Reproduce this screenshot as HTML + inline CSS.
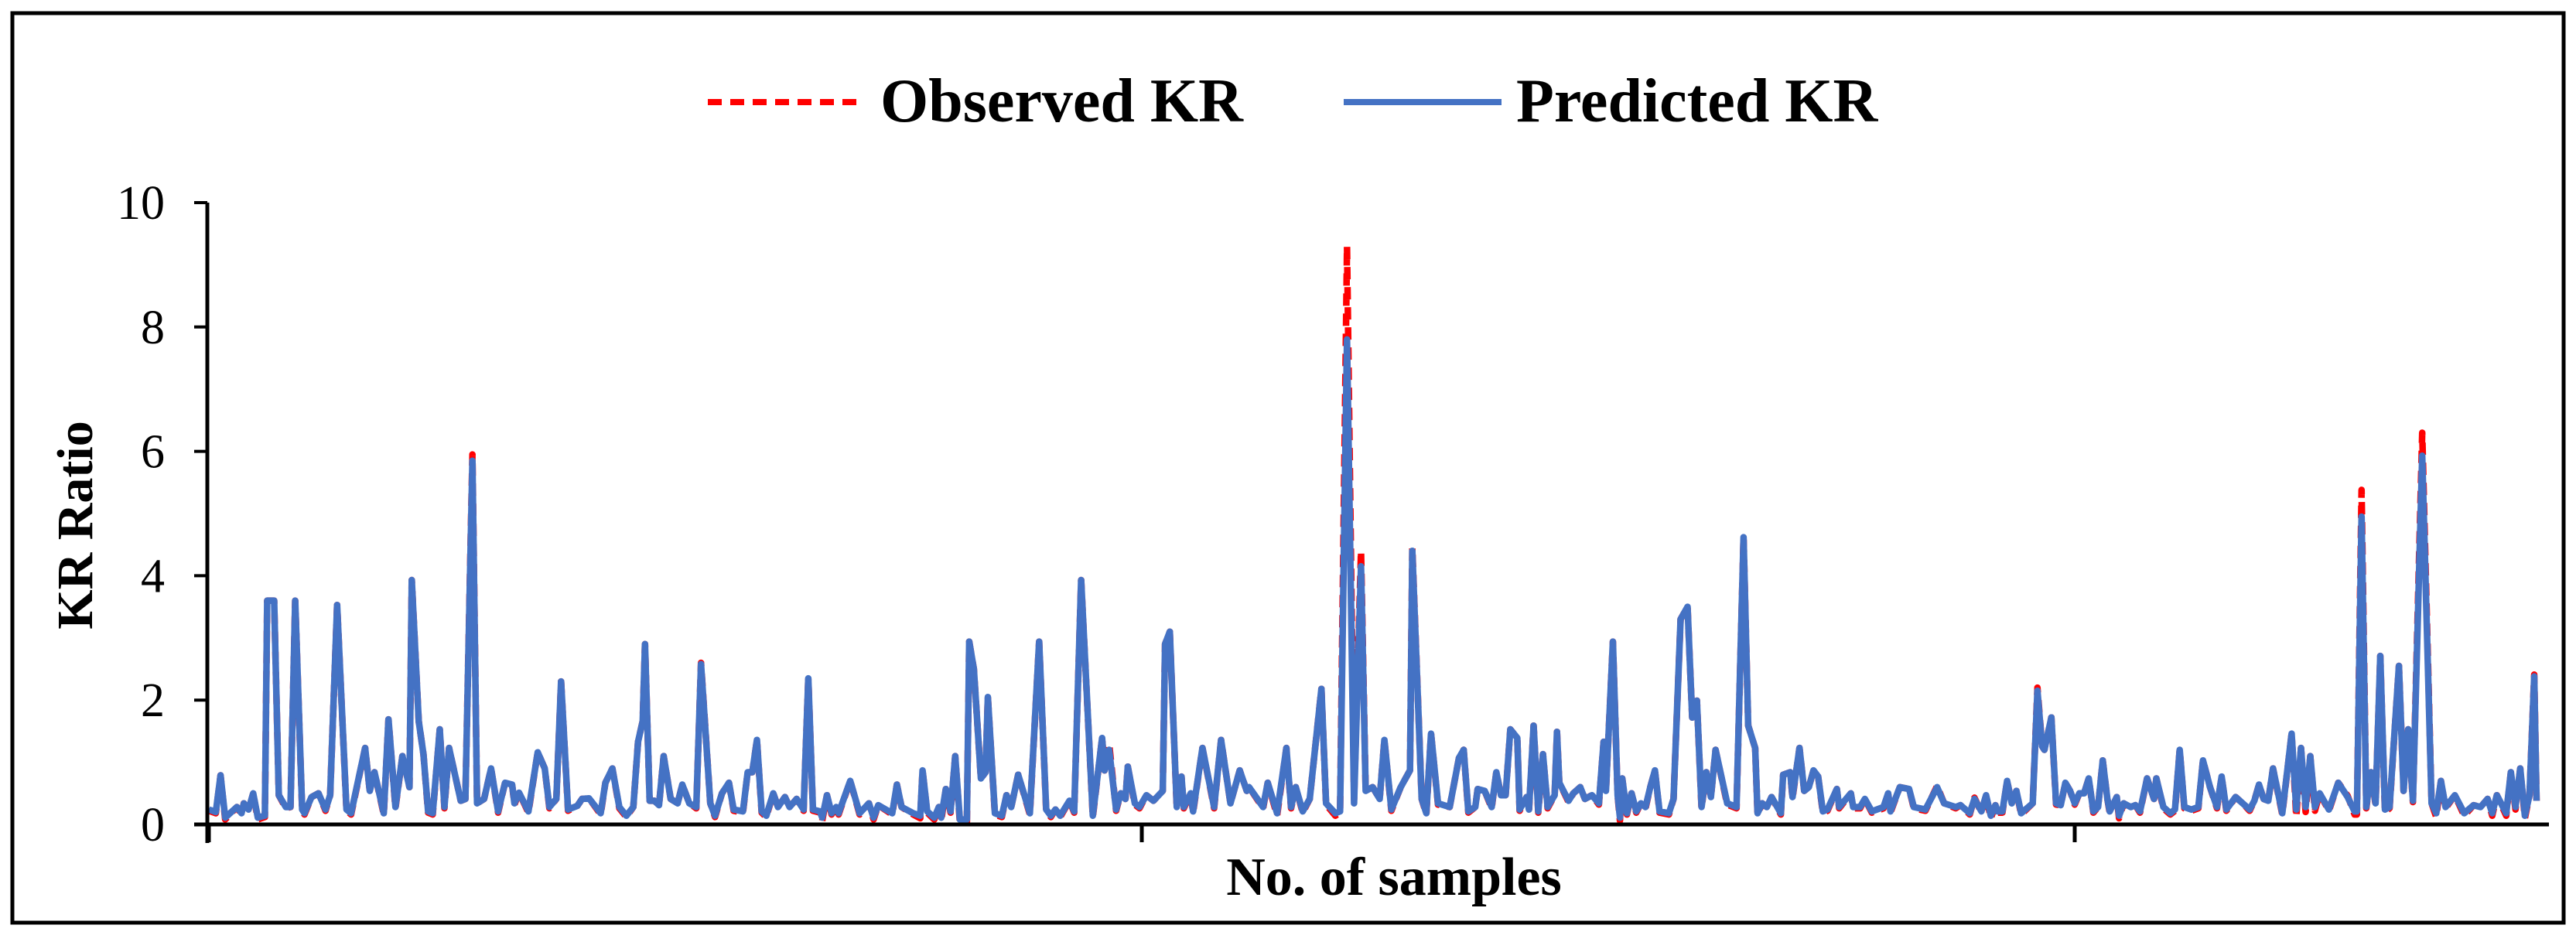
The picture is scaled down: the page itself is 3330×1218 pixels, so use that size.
<!DOCTYPE html>
<html><head><meta charset="utf-8"><style>
html,body{margin:0;padding:0;background:#fff;}
svg{display:block;}
</style></head><body>
<svg id="chart" width="3330" height="1218" viewBox="0 0 3330 1218" xmlns="http://www.w3.org/2000/svg">
<rect x="16" y="17" width="3298" height="1176" fill="#fff" stroke="#000" stroke-width="5"/>
<g>
<line x1="915" y1="132" x2="1110" y2="132" stroke="#ff0000" stroke-width="8" stroke-dasharray="18 11"/>
<text x="1138" y="157" font-family="Liberation Serif, serif" font-weight="bold" font-size="80">Observed KR</text>
<line x1="1737" y1="132" x2="1941" y2="132" stroke="#4472c4" stroke-width="8"/>
<text x="1960" y="157" font-family="Liberation Serif, serif" font-weight="bold" font-size="80">Predicted KR</text>
</g>
<text transform="translate(119,679) rotate(-90)" text-anchor="middle" font-family="Liberation Serif, serif" font-weight="bold" font-size="66">KR  Ratio</text>
<text x="1802" y="1157" text-anchor="middle" font-family="Liberation Serif, serif" font-weight="bold" font-size="70">No. of samples</text>
<g id="series"></g>
<g id="axes"></g>
</svg>
<script>
const sampleNo=[0,3,5,7,12,14,15,17,19,21,24,25,27,28,30,33,35,37,40,41,44,47,50,52,55,59,61,67,69,71,75,77,80,83,86,87,90,92,94,96,99,101,103,108,110,113,115,118,121,124,127,130,131,133,137,141,144,146,149,151,154,158,160,163,168,170,
173,176,179,182,184,186,187,189,191,193,195,198,201,203,206,209,211,215,217,220,223,225,229,231,233,235,237,239,242,244,247,249,252,255,257,259,262,263,265,267,269,270,275,279,283,285,287,293,295,297,302,305,306,308,311,313,314,316,318,320,322,325,326,328,331,333,334,337,340,
342,344,347,352,356,359,361,363,365,369,371,374,379,383,384,386,389,391,393,394,397,399,402,405,409,410,412,415,417,418,421,422,426,431,434,438,442,445,446,452,454,458,462,464,466,469,472,477,479,483,485,488,491,494,496,499,502,504,507,511,
515,516,520,522,524,527,532,536,538,540,543,544,547,550,552,554,556,558,561,562,565,566,568,570,572,574,577,578,579,583,585,588,590,593,596,598,599,602,604,605,606,608,610,612,614,616,618,620,622,626,628,631,634,636,638,640,642,644,646,651,655,658,660,663,664,666,668,670,674,
675,678,679,682,684,686,688,690,692,694,698,699,704,705,708,710,713,718,720,721,725,729,731,736,741,744,749,751,755,757,760,762,764,766,767,769,771,773,775,777,782,784,786,787,790,792,794,796,798,800,802,804,806,808,810,812,814,815,818,819,821,824,826,828,831,834,835,838,
841,843,845,847,850,853,855,858,861,863,865,869,872,875,877,879,881,883,885,889,893,895,897,899,901,903,905,909,913,917,920,921,923,925,927,929,931,933,935,939,941,943,945,949,953,955,957,959,963,967,971,974,977,979,981,985,987,989,991,993,995,997,998];

const predicted=[.24,.2,.79,.11,.28,.18,.34,.24,.5,.11,.14,3.6,3.6,3.6,.47,.28,.28,3.6,.24,.18,.44,.5,.24,.47,3.53,.24,.18,1.23,.54,.84,.18,1.69,.28,1.1,.6,3.93,1.66,1.13,.21,.18,1.53,.28,1.23,.38,.41,5.85,.34,.41,.9,.21,.67,.64,.34,.51,.21,1.16,.9,.28,.41,2.3,.24,.3,.41,.42,.18,.67,
.9,.28,.14,.28,1.33,1.66,2.9,.38,.38,.31,1.1,.41,.34,.64,.34,.28,2.58,.34,.14,.5,.67,.24,.21,.84,.84,1.36,.21,.14,.5,.28,.44,.28,.41,.24,2.35,.24,.21,.11,.47,.18,.28,.18,.7,.18,.34,.11,.31,.18,.64,.28,.18,.14,.87,.21,.11,.28,.11,.57,.21,1.1,.08,.08,2.94,2.5,.74,.84,2.05,.18,.14,
.47,.28,.8,.18,2.94,.24,.14,.24,.14,.38,.21,3.93,.14,1.39,.87,1.2,.24,.5,.41,.93,.34,.28,.47,.38,.54,2.9,3.1,.28,.77,.28,.5,.21,1.23,.28,1.36,.34,.87,.54,.6,.28,.67,.18,1.23,.28,.6,.21,.41,2.18,.34,.18,.21,7.8,.34,4.15,.54,.6,.41,1.36,.24,.6,
.87,4.4,.41,.18,1.46,.34,.28,1.07,1.2,.21,.28,.57,.54,.28,.84,.47,.47,1.53,1.39,.24,.44,.24,1.59,.21,1.13,.28,.47,1.49,.67,.38,.5,.6,.41,.47,.34,1.33,.54,2.94,.47,.11,.74,.18,.5,.21,.34,.28,.6,.87,.21,.18,.41,3.3,3.5,1.72,1.99,.28,.84,.44,1.2,.34,.28,4.62,1.59,1.23,.18,.34,.28,.44,.18,
.8,.84,.44,1.23,.54,.6,.87,.77,.21,.24,.57,.28,.5,.28,.28,.41,.21,.28,.5,.21,.6,.57,.28,.24,.6,.34,.28,.31,.18,.41,.21,.47,.14,.31,.21,.21,.7,.34,.54,.18,.34,2.15,1.26,1.2,1.72,.34,.31,.67,.54,.34,.5,.5,.74,.21,.28,1.03,.41,.21,.44,.14,.34,.28,.31,.21,.74,.41,.74,.28,
.18,.24,1.2,.28,.24,.28,1.03,.6,.28,.77,.24,.44,.34,.24,.38,.64,.41,.38,.9,.18,1.46,.24,1.23,.28,1.1,.28,.5,.24,.67,.44,.21,.21,4.95,.28,.84,.34,2.71,.24,.28,2.55,.54,1.53,.38,5.93,.34,.18,.7,.28,.47,.18,.31,.28,.41,.18,.47,.18,.84,.28,.9,.14,.47,2.38,.38];

const observed=[.22,.18,.79,.08,.28,.16,.34,.22,.5,.08,.12,3.6,3.6,3.6,.47,.26,.28,3.6,.22,.16,.44,.5,.22,.47,3.53,.22,.16,1.23,.54,.84,.16,1.69,.26,1.1,.6,3.93,1.66,1.13,.19,.16,1.53,.26,1.23,.38,.41,5.95,.34,.41,.9,.19,.67,.64,.32,.51,.19,1.16,.9,.26,.41,2.3,.22,.3,.41,.42,.16,.67,
.9,.26,.12,.28,1.33,1.66,2.9,.38,.38,.31,1.1,.41,.34,.64,.34,.26,2.6,.34,.12,.5,.67,.22,.19,.84,.84,1.36,.19,.12,.5,.28,.44,.28,.41,.22,2.35,.22,.19,.06,.47,.16,.28,.16,.7,.16,.34,.08,.31,.16,.64,.28,.16,.1,.87,.19,.08,.28,.06,.57,.19,1.1,.04,.04,2.94,2.5,.74,.84,2.05,.16,.12,
.47,.28,.8,.16,2.94,.22,.12,.24,.12,.38,.19,3.93,.12,1.39,.87,1.3,.22,.5,.41,.93,.32,.26,.47,.38,.54,2.9,3.1,.26,.77,.26,.5,.19,1.23,.26,1.36,.34,.87,.54,.6,.26,.67,.14,1.23,.26,.6,.19,.41,2.18,.32,.14,.19,9.3,.4,4.4,.54,.6,.41,1.36,.22,.6,
.87,4.45,.41,.16,1.46,.32,.28,1.07,1.2,.19,.28,.57,.54,.26,.84,.47,.47,1.53,1.39,.22,.44,.22,1.59,.19,1.13,.26,.47,1.49,.67,.36,.5,.6,.41,.47,.32,1.33,.54,2.94,.47,.06,.74,.16,.5,.19,.34,.26,.6,.87,.19,.16,.41,3.3,3.5,1.72,1.99,.26,.84,.44,1.2,.32,.26,4.62,1.59,1.23,.16,.34,.28,.44,.16,
.8,.84,.42,1.23,.54,.6,.87,.77,.19,.22,.57,.26,.5,.26,.26,.41,.19,.26,.5,.19,.6,.57,.26,.22,.62,.34,.26,.31,.16,.43,.19,.47,.1,.31,.19,.19,.7,.34,.54,.16,.34,2.2,1.26,1.2,1.72,.32,.31,.67,.54,.32,.5,.5,.74,.19,.28,1.03,.41,.19,.44,.1,.34,.26,.31,.19,.74,.41,.74,.26,
.16,.22,1.2,.26,.22,.26,1.03,.6,.26,.77,.22,.44,.34,.22,.38,.64,.41,.38,.9,.16,1.46,.12,1.23,.2,1.1,.22,.5,.22,.67,.46,.16,.16,5.38,.26,.84,.32,2.71,.2,.26,2.55,.54,1.53,.36,6.3,.34,.12,.7,.26,.47,.14,.31,.28,.41,.14,.47,.14,.84,.24,.9,.1,.47,2.41,.38];

const yTicks=[0,2,4,6,8,10];
const yTickLabels=["0","2","4","6","8","10"];
const xTicks=[0,400,800];

const NS='http://www.w3.org/2000/svg';
const X0=270, X1=3285, XMAX=1000, Y0=1066, Y1=262, YMAX=10;
function xs(s){return X0+(s/XMAX)*(X1-X0);}
function ys(v){return Y0-(v/YMAX)*(Y0-Y1);}

const series=document.getElementById('series');
function drawLine(vals,color,dash,name){
  const p=document.createElementNS(NS,'polyline');
  p.setAttribute('points',sampleNo.map((s,i)=>xs(s).toFixed(1)+','+ys(vals[i]).toFixed(1)).join(' '));
  p.setAttribute('fill','none');
  p.setAttribute('stroke',color);
  p.setAttribute('stroke-width','8.5');
  p.setAttribute('stroke-linejoin','round');
  if(dash)p.setAttribute('stroke-dasharray',dash);
  
  
  series.appendChild(p);
}
drawLine(observed,'#ff0000','16 10','observed-kr-line');
drawLine(predicted,'#4472c4',null,'predicted-kr-line');

const axes=document.getElementById('axes');
function mk(tag,attrs){const e=document.createElementNS(NS,tag);for(const k in attrs)e.setAttribute(k,attrs[k]);axes.appendChild(e);return e;}
const ya=mk('line',{x1:268,y1:Y1,x2:268,y2:1090,stroke:'#000','stroke-width':5});


const xa=mk('line',{x1:251,y1:Y0,x2:3295,y2:Y0,stroke:'#000','stroke-width':5});


yTicks.forEach((t,i)=>{
  const tk=mk('line',{x1:251,y1:ys(t),x2:268,y2:ys(t),stroke:'#000','stroke-width':4});
  
  
  const lb=mk('text',{x:213,y:ys(t)+21,'text-anchor':'end','font-family':'Liberation Serif, serif','font-size':62});
  lb.textContent=yTickLabels[i];
  
  
});
xTicks.forEach(t=>{
  const tk=mk('line',{x1:xs(t),y1:Y0,x2:xs(t),y2:1089,stroke:'#000','stroke-width':5});
  
  
});
</script>
</body></html>
